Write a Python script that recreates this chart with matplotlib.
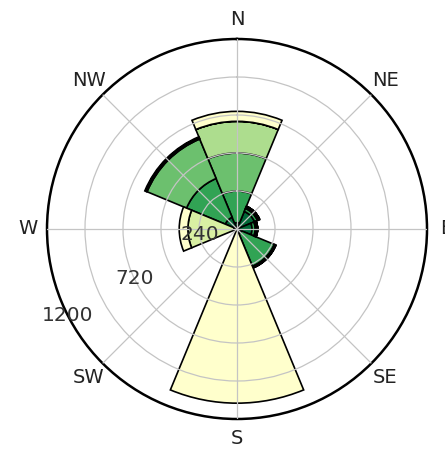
import numpy as np
import matplotlib
matplotlib.use("Agg")
import matplotlib.pyplot as plt

# wind directions (compass bearings) and their labels
directions = [0, 45, 90, 135, 180, 225, 270, 315]
direction_labels = ["N", "NE", "E", "SE", "S", "SW", "W", "NW"]

# stacked counts per speed bin (innermost bin first), one list per bin
bin0 = [40, 120, 95, 30, 0, 8, 5, 80]
bin1 = [200, 20, 20, 225, 0, 4, 5, 265]
bin2 = [240, 10, 10, 5, 0, 0, 5, 270]
bin3 = [200, 5, 5, 3, 0, 0, 5, 5]
bin4 = [0, 0, 0, 3, 0, 0, 290, 5]
bin5 = [63, 0, 0, 0, 1100, 0, 55, 5]
speed_bins = [bin0, bin1, bin2, bin3, bin4, bin5]
bin_colors = ["#006837", "#31a354", "#6cc06e", "#addd8e", "#d9f0a3", "#ffffcc"]

radial_ticks = [240, 480, 720, 960]
radial_labels = ["240", "720", "1200"]
radial_label_values = [240, 720, 1200]
radial_label_angles = [262, 244, 243]

fig = plt.figure(figsize=(4.45, 4.54), dpi=100)
ax = fig.add_axes([0.1056, 0.0771, 0.854, 0.837], projection="polar")
ax.set_theta_zero_location("N")
ax.set_theta_direction(-1)

theta = np.deg2rad(directions)
width = 2 * np.pi / len(directions)
bottom = np.zeros(len(directions))
for values, color in zip(speed_bins, bin_colors):
    values = np.array(values, dtype=float)
    ax.bar(theta, values, width=width, bottom=bottom, color=color,
           edgecolor="black", linewidth=1.2, align="center")
    bottom += values

ax.set_ylim(0, 1200)
ax.set_thetagrids(directions, direction_labels, fontsize=14, color="#222222")
ax.set_rgrids(radial_ticks, [""] * len(radial_ticks))
for lab, val, ang in zip(radial_labels, radial_label_values, radial_label_angles):
    ax.text(np.deg2rad(ang), val, lab, ha="center", va="center",
            fontsize=14.5, color="#333333", zorder=5)
ax.set_axisbelow(False)
ax.grid(True, color="#c4c4c4", linewidth=0.9)
ax.spines["polar"].set_linewidth(1.8)
ax.spines["polar"].set_color("black")

fig.savefig("out.png", dpi=100)
